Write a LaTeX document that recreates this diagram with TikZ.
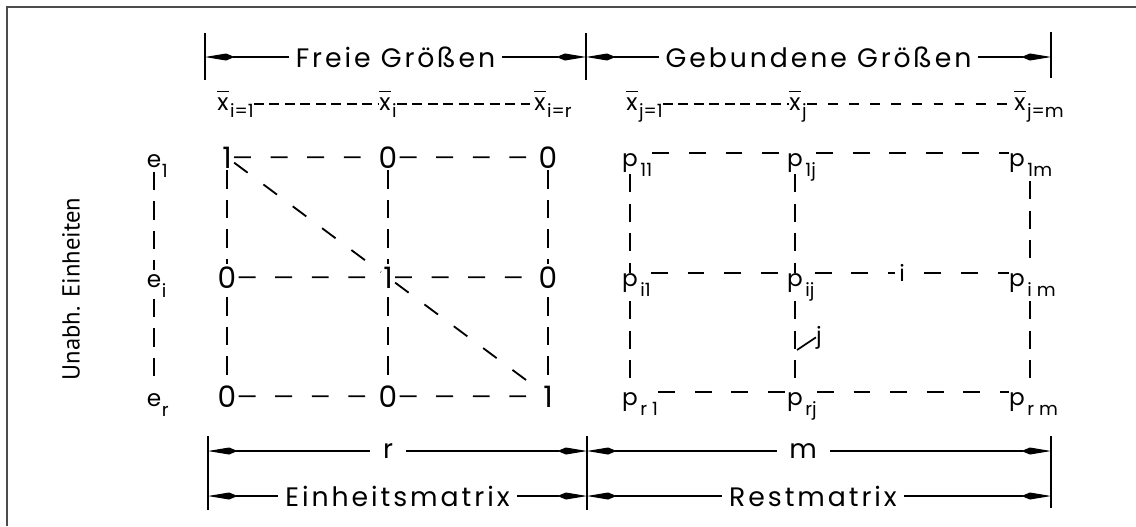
\documentclass[tikz,border=0pt]{standalone}
\usepackage{fontspec}
\setmainfont{Poppins}
\newfontfamily\dinfont[LetterSpace=11]{Poppins}
\newfontfamily\dinplain{Poppins}
\newfontfamily\sidefont{PT Sans}
\usetikzlibrary{arrows.meta}
\newcommand\barx{\leavevmode\vbox{\hrule height 1pt\kern3.5pt\hbox{x}}}

\tikzset{
  dimline/.style={line width=0.8pt, {Kite[length=21pt,width=5pt,inset=6pt]}-{Kite[length=21pt,width=5pt,inset=6pt]}},
  dimlab/.style={fill=white, inner xsep=5pt, inner ysep=1pt, font=\dinfont\fontsize{19}{21}\selectfont},
  dimtick/.style={line width=0.8pt},
  el/.style={anchor=base, inner sep=1.5pt, font=\dinplain\fontsize{21}{23}\selectfont},
  eel/.style={anchor=base, inner sep=3pt, font=\dinplain\fontsize{16.5}{19}\selectfont},
  pel/.style={anchor=base, inner sep=0pt, text height=8.8pt, text depth=5.5pt, font=\dinplain\fontsize{16.5}{19}\selectfont},
  xel/.style={anchor=base, inner sep=0pt, text height=8.8pt, text depth=0pt, font=\dinplain\fontsize{16.5}{19}\selectfont},
  subs/.style={anchor=base west, inner sep=0pt, font=\dinplain\fontsize{13}{14}\selectfont},
  hdash/.style={line width=1.3pt, dash pattern=on 12pt off 14pt},
  vdash/.style={line width=1.3pt, dash pattern=on 13pt off 8pt, shorten <=5pt, shorten >=5pt},
  xdash/.style={line width=1.2pt, dash pattern=on 7pt off 4pt},
}

\begin{document}
\begin{tikzpicture}[x=0.025cm, y=-0.025cm]
  \useasboundingbox (0,0) rectangle (1136,526);

  % frame
  \draw[line width=1.2pt, black!70] (7,526) -- (7,7) -- (1136,7);

  % dimensions on top
  \coordinate (tl) at (205,57);
  \coordinate (tm) at (586,57);
  \coordinate (tr) at (1051,57);
  \draw[dimtick] (205,33) -- (205,80);
  \draw[dimtick] (586,33) -- (586,80);
  \draw[dimtick] (1051,32) -- (1051,78);
  \draw[dimline] (tl) -- node[dimlab] (freie) {Freie Größen} (tm);
  \draw[dimline] (tm) -- node[dimlab] (gebunden) {Gebundene Größen} (tr);

  % row of the x-bar
  \node[xel] (x1) at (223,110) {\barx};
  \node[subs] (x1s) at ([shift={(1,7)}]x1.base east) {i=1};
  \node[xel] (xi) at (385,110) {\barx};
  \node[subs] (xis) at ([shift={(1,7)}]xi.base east) {i};
  \node[xel] (xr) at (540,110) {\barx};
  \node[subs] (xrs) at ([shift={(1,7)}]xr.base east) {i=r};
  \node[xel] (xj1) at (632,110) {\barx};
  \node[subs] (xj1s) at ([shift={(1,7)}]xj1.base east) {j=1};
  \node[xel] (xj) at (795,110) {\barx};
  \node[subs] (xjs) at ([shift={(1,7)}]xj.base east) {j};
  \node[xel] (xm) at (1020,110) {\barx};
  \node[subs] (xms) at ([shift={(1,7)}]xm.base east) {j=m};
  \draw[xdash] (x1s.east |- x1) -- (xi);
  \draw[xdash] (xis.east |- xi) -- (xr);
  \draw[xdash] (xj1s.east |- xj1) -- (xj);
  \draw[xdash, dash pattern=on 7pt off 8pt] (xjs.east |- xj) -- (xm);

  % unit vectors on the left
  \node[rotate=90, font=\sidefont\fontsize{17.5}{19}\selectfont] (unabh) at (71,289) {Unabh. Einheiten};
  \node[eel] (e1) at (154,167) {e};
  \node[subs] (e1s) at ([shift={(-4,10)}]e1.base east) {1};
  \node[eel] (ei) at (154,287) {e};
  \node[subs] (eis) at ([shift={(-4,10)}]ei.base east) {i};
  \node[eel] (er) at (154,406) {e};
  \node[subs] (ers) at ([shift={(-4,10)}]er.base east) {r};
  \draw[vdash] (e1) -- (ei) -- (er);

  % unit matrix
  \node[el] (a11) at (227,168) {1};
  \node[el] (a1i) at (388,168) {0};
  \node[el] (a1r) at (548,168) {0};
  \node[el] (ai1) at (227,288) {0};
  \node[el] (aii) at (388,288) {1};
  \node[el] (air) at (548,288) {0};
  \node[el] (ar1) at (227,407) {0};
  \node[el] (ari) at (388,407) {0};
  \node[el] (arr) at (548,407) {1};
  \draw[hdash] (a11) -- (a1i) -- (a1r);
  \draw[hdash] (ai1) -- (aii) -- (air);
  \draw[hdash] (ar1) -- (ari) -- (arr);
  \draw[vdash] (a11) -- (ai1) -- (ar1);
  \draw[vdash] (a1i) -- (aii) -- (ari);
  \draw[vdash] (a1r) -- (air) -- (arr);
  \draw[hdash] (a11) -- (aii) -- (arr);

  % rest matrix
  \node[pel] (p11) at (630,166) {p};
  \node[subs] (p11s) at ([shift={(2,10)}]p11.base east) {11};
  \node[pel] (p1j) at (795,166) {p};
  \node[subs] (p1js) at ([shift={(2,10)}]p1j.base east) {1j};
  \node[pel] (p1m) at (1017,166) {p};
  \node[subs] (p1ms) at ([shift={(2,10)}]p1m.base east) {1m};
  \node[pel] (pi1) at (630,286) {p};
  \node[subs] (pi1s) at ([shift={(2,10)}]pi1.base east) {i1};
  \node[pel] (pij) at (795,286) {p};
  \node[subs] (pijs) at ([shift={(2,10)}]pij.base east) {ij};
  \node[pel] (pim) at (1017,286) {p};
  \node[subs] (pims) at ([shift={(2,10)}]pim.base east) {i m};
  \node[pel] (pr1) at (630,405) {p};
  \node[subs] (pr1s) at ([shift={(2,10)}]pr1.base east) {r 1};
  \node[pel] (prj) at (795,405) {p};
  \node[subs] (prjs) at ([shift={(2,10)}]prj.base east) {rj};
  \node[pel] (prm) at (1017,405) {p};
  \node[subs] (prms) at ([shift={(2,10)}]prm.base east) {r m};
  \draw[hdash] (p11s.east |- p11.north) -- (p1j.north west);
  \draw[hdash] (p1js.east |- p1j.north) -- (p1m.north west);
  \draw[hdash] (pi1s.east |- pi1.north) -- (pij.north west);
  \draw[hdash] (pijs.east |- pij.north) -- node[pos=0.45, fill=white, inner sep=3pt, font=\dinplain\fontsize{16}{18}\selectfont] (ilab) {i} (pim.north west);
  \draw[hdash] (pr1s.east |- pr1.north) -- (prj.north west);
  \draw[hdash] (prjs.east |- prj.north) -- (prm.north west);
  \draw[vdash] (p11) -- (pi1) -- (pr1);
  \draw[vdash] (p1j) -- (pij) -- (prj);
  \draw[vdash] ([xshift=9pt]p1m.south) -- ([xshift=9pt]pim.north);
  \draw[vdash] ([xshift=9pt]pim.south) -- ([xshift=9pt]prm.north);
  \node[anchor=base, inner sep=0pt, font=\dinplain\fontsize{16}{18}\selectfont] (jlab) at (819,343) {j};
  \coordinate (jt) at (797,350);
  \draw[line width=1.2pt] (jt) -- (jlab.west);

  % dimensions at the bottom
  \coordinate (bl) at (208,451);
  \coordinate (bm) at (587,451);
  \coordinate (br) at (1051,451);
  \coordinate (cl) at (208,496);
  \coordinate (cm) at (587,496);
  \coordinate (cr) at (1051,496);
  \draw[dimtick] (208,436) -- (208,510);
  \draw[dimtick] (587,436) -- (587,510);
  \draw[dimtick] (1051,436) -- (1051,508);
  \draw[dimline] (bl) -- node[dimlab, pos=0.475, inner xsep=9pt] (rlab) {r} (bm);
  \draw[dimline] (bm) -- node[dimlab, pos=0.466, inner xsep=9pt] (mlab) {m} (br);
  \draw[dimline] (cl) -- node[dimlab] (einh) {Einheitsmatrix} (cm);
  \draw[dimline] (cm) -- node[dimlab, pos=0.487] (rest) {Restmatrix} (cr);
\end{tikzpicture}
\end{document}
